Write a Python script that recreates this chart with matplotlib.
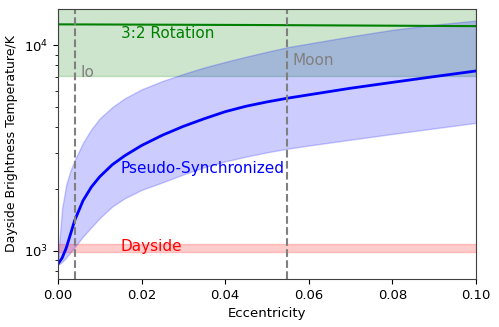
import matplotlib
matplotlib.use("Agg")
import matplotlib.pyplot as plt

# Pseudo-synchronized curve and its uncertainty band
ecc = [0.0, 0.001, 0.002, 0.003, 0.004, 0.006, 0.008, 0.010, 0.013, 0.016, 0.020,
       0.025, 0.030, 0.035, 0.040, 0.045, 0.050, 0.055, 0.060, 0.070, 0.080, 0.090, 0.100]
t_pseudo = [860, 920, 1030, 1200, 1400, 1750, 2040, 2290, 2620, 2900, 3250,
            3650, 4030, 4390, 4750, 5050, 5300, 5530, 5740, 6180, 6600, 7040, 7500]
t_pseudo_hi = [900, 1600, 2100, 2450, 2750, 3350, 3900, 4400, 5000, 5520, 6100,
               6700, 7250, 7800, 8300, 8800, 9300, 9800, 10200, 11050, 11900, 12600, 13200]
t_pseudo_lo = [850, 880, 925, 980, 1040, 1170, 1300, 1440, 1640, 1800, 1975,
               2150, 2350, 2550, 2720, 2870, 3010, 3140, 3250, 3470, 3700, 3940, 4190]

# 3:2 rotation
rot_ecc = [0.0, 0.05, 0.1]
t_rot = [12650, 12550, 12400]
rot_band = [7100, 20000]

# Dayside band
day_band = [990, 1080]

# Moons
moon_names = ["Io", "Moon"]
moon_ecc = [0.0041, 0.0549]
moon_label_T = [7400, 8450]

fig = plt.figure(figsize=(4.99, 3.27), dpi=100)
ax = fig.add_axes([0.116, 0.147, 0.838, 0.825])

ax.fill_between(rot_ecc, rot_band[0], rot_band[1], color="green", alpha=0.2)
ax.plot(rot_ecc, t_rot, color="green", lw=1.5)

ax.fill_between(ecc, t_pseudo_lo, t_pseudo_hi, color="blue", alpha=0.2)
ax.plot(ecc, t_pseudo, color="blue", lw=2)

ax.axhspan(day_band[0], day_band[1], color="red", alpha=0.2)

for name, e, ty in zip(moon_names, moon_ecc, moon_label_T):
    ax.axvline(e, color="gray", ls="--", lw=1.5)
    ax.text(e + 0.0012, ty, name, color="gray", fontsize=11, va="center", ha="left")

ax.text(0.015, 11400, "3:2 Rotation", color="green", fontsize=11, va="center")
ax.text(0.015, 2520, "Pseudo-Synchronized", color="blue", fontsize=11, va="center")
ax.text(0.015, 1045, "Dayside", color="red", fontsize=11, va="center")

ax.set_yscale("log")
ax.set_xlim(0, 0.1)
ax.set_ylim(728, 15000)
ax.set_xticks([0.0, 0.02, 0.04, 0.06, 0.08, 0.10])
ax.set_xticklabels(["0.00", "0.02", "0.04", "0.06", "0.08", "0.10"])
ax.tick_params(labelsize=9.5)
ax.set_xlabel("Eccentricity", fontsize=9.5)
ax.set_ylabel("Dayside Brightness Temperature/K", fontsize=9)
for s in ax.spines.values():
    s.set_color("0.25")

fig.savefig("out.png", dpi=100)
